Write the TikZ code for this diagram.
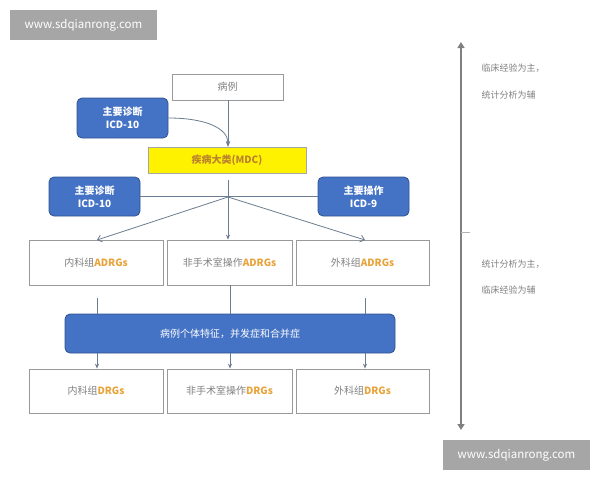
\documentclass[tikz,border=0pt]{standalone}
\usepackage{fontspec}
\setmainfont{Noto Sans CJK SC}
\usetikzlibrary{arrows.meta}
\definecolor{bl}{HTML}{4472C4}
\definecolor{bld}{HTML}{2F528F}
\definecolor{ln}{HTML}{6A7C90}
\definecolor{tx}{HTML}{808080}
\definecolor{org}{HTML}{E8A33A}
\definecolor{wm}{HTML}{A6A6A6}
\begin{document}
\begin{tikzpicture}[x=1pt,y=-1pt,
 wbox/.style={draw=gray!80,line width=0.8pt,fill=white,text=tx,font=\fontsize{10}{12}\selectfont},
 bbox/.style={draw=bld,line width=0.8pt,fill=bl,rounded corners=5pt,text=white,font=\bfseries\fontsize{10}{13}\selectfont,align=center},
 wmark/.style={fill=wm,text=white,font=\fontsize{11.5}{13}\selectfont},
 conn/.style={draw=ln,line width=0.8pt},
 arr/.style={conn,-{Stealth[length=5pt,width=4pt]}},
 varr/.style={conn,-{Straight Barb[length=4pt,width=7pt]}},
 note/.style={text=tx,font=\fontsize{9}{11}\selectfont,anchor=west}]
\useasboundingbox (0,0) rectangle (600,480);
\node[wmark,minimum width=147,minimum height=30] (w1) at (83.5,25) {www.sdqianrong.com};
\node[wmark,minimum width=147,minimum height=30] (w2) at (516.5,455) {www.sdqianrong.com};

\node[wbox,minimum width=111,minimum height=26] (bl) at (227.5,87) {病例};
\node[bbox,minimum width=91,minimum height=40] (d1) at (122.5,118) {主要诊断\\ICD-10};
\node[draw=gray!70,fill=yellow,text=org!80!black,minimum width=158,minimum height=26,font=\bfseries\fontsize{10}{12}\selectfont] (mdc) at (227,160) {疾病大类(MDC)};
\node[bbox,minimum width=91,minimum height=39] (d2) at (94.5,196.5) {主要诊断\\ICD-10};
\node[bbox,minimum width=91,minimum height=39] (op) at (363.5,196.5) {主要操作\\ICD-9};

\node[wbox,minimum width=134,minimum height=45] (a1) at (96,262.5) {内科组\textcolor{org}{\bfseries ADRGs}};
\node[wbox,minimum width=125,minimum height=45] (a2) at (229.5,262.5) {非手术室操作\textcolor{org}{\bfseries ADRGs}};
\node[wbox,minimum width=133,minimum height=45] (a3) at (362.5,262.5) {外科组\textcolor{org}{\bfseries ADRGs}};
\node[bbox,font=\fontsize{10}{12}\selectfont,minimum width=330,minimum height=39] (bar) at (230,333.5) {病例个体特征，并发症和合并症};
\node[wbox,minimum width=134,minimum height=44] (r1) at (96,391) {内科组\textcolor{org}{\bfseries DRGs}};
\node[wbox,minimum width=125,minimum height=44] (r2) at (229.5,391) {非手术室操作\textcolor{org}{\bfseries DRGs}};
\node[wbox,minimum width=133,minimum height=44] (r3) at (362.5,391) {外科组\textcolor{org}{\bfseries DRGs}};

\coordinate (s) at (228,197);
\coordinate (m0) at (228,180);
\draw[arr] (bl.south -| 228,0) -- (mdc.north -| 228,0);
\draw[arr] (d1.east) .. controls (205,118) and (228,128) .. (228,146);
\draw[conn] (d2.east) -- (op.west);
\draw[arr] (m0) -- (a2.north -| 228,0);
\draw[varr] (s) -- (97,240);
\draw[varr] (s) -- (365,240);
\coordinate (t1) at (97,298);
\coordinate (t3) at (365,298);
\draw[conn] (t1) -- (bar.north -| t1);
\draw[conn] (a2.south -| 230,0) -- (bar.north -| 230,0);
\draw[conn] (t3) -- (bar.north -| t3);
\draw[arr] (bar.south -| 97,0) -- (r1.north -| 97,0);
\draw[arr] (bar.south -| 230,0) -- (r2.north -| 230,0);
\draw[arr] (bar.south -| 365,0) -- (r3.north -| 365,0);

\coordinate (ta) at (461,42);
\coordinate (tb) at (461,430);
\coordinate (tk) at (461,232);
\coordinate (tk2) at (470,232);
\draw[draw=gray,line width=2pt,{Triangle[length=6pt,width=7pt]}-{Triangle[length=6pt,width=7pt]}] (ta) -- (tb);
\draw[draw=gray!60,line width=0.6pt] (tk) -- (tk2);
\node[note] (n1) at (478,68) {临床经验为主，};
\node[note] (n2) at (478,95) {统计分析为辅};
\node[note] (n3) at (478,264) {统计分析为主，};
\node[note] (n4) at (478,290) {临床经验为辅};
\end{tikzpicture}
\end{document}
